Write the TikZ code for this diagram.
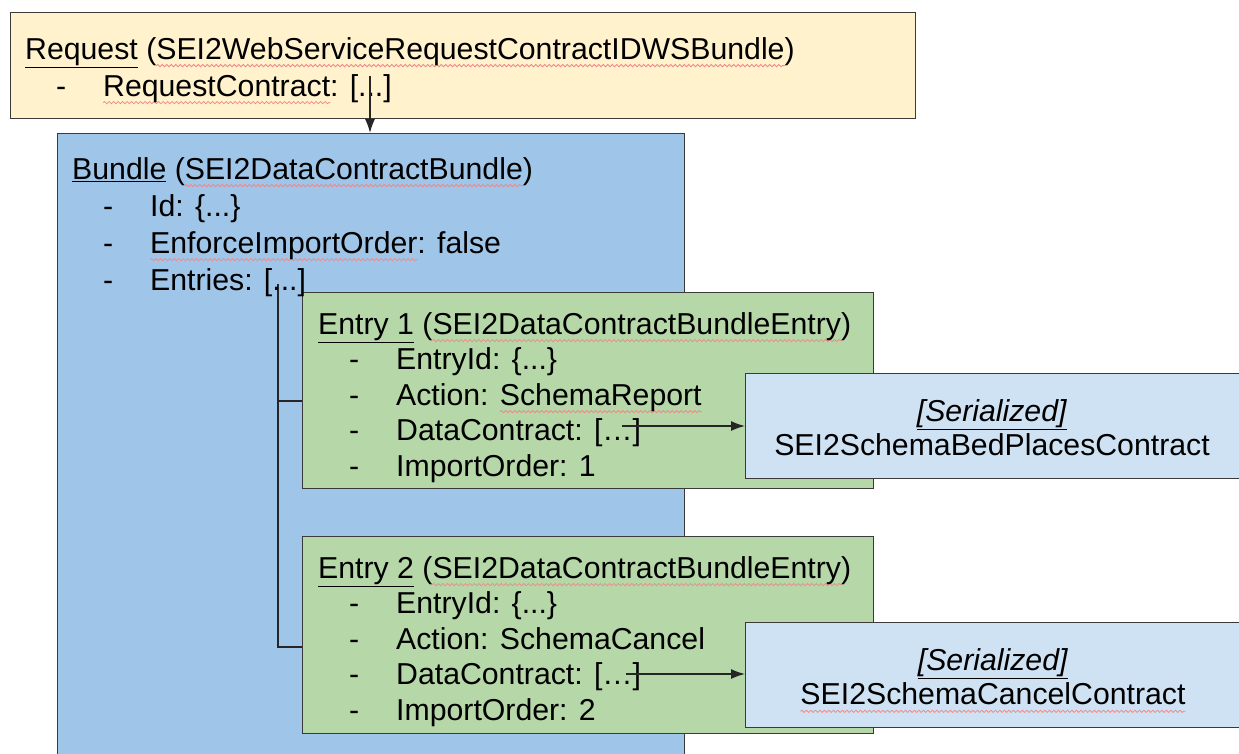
\documentclass[tikz,border=0pt]{standalone}
\usepackage{fontspec}
\setmainfont{Liberation Sans}
\usetikzlibrary{arrows,arrows.meta,decorations.pathmorphing,positioning}

\definecolor{reqfill}{HTML}{FFF2CC}
\definecolor{bundlefill}{HTML}{9FC5E8}
\definecolor{entryfill}{HTML}{B6D7A8}
\definecolor{serfill}{HTML}{CFE2F3}
\definecolor{edgegray}{HTML}{3A3A3A}
\definecolor{spellred}{HTML}{EE8A8A}

\newcommand{\field}[1]{\hspace*{31pt}\makebox[47pt][l]{-}#1}
% red wavy mark under a word
\newcommand{\spellwave}[1]{\setbox0=\hbox{#1}\rlap{\tikz[overlay,baseline=0pt,x=1pt,y=1pt]
  \draw[spellred, line width=0.8pt, decorate, decoration={snake,amplitude=1.1pt,segment length=4.5pt}]
  (0,-6.5) -- (\the\wd0,-6.5);}\box0}

\tikzset{
  box/.style={draw=edgegray, line width=1.3pt, anchor=north west, inner sep=0pt},
  boxtext/.style={anchor=north west, inner sep=0pt, align=left},
  link/.style={draw=black!85, line width=1.3pt},
  linkarrow/.style={link, arrows={-Latex[length=14pt,width=10pt]}},
}

\begin{document}
\begin{tikzpicture}[x=1pt,y=-1pt,font=\fontsize{30.25}{37}\selectfont]
  \clip (0,0) rectangle (1239,754);
  \useasboundingbox (0,0) rectangle (1239,754);
  % boxes
  \node[box, fill=reqfill, minimum width=905pt, minimum height=106pt] (request) at (10,12) {};
  \node[box, fill=bundlefill, minimum width=627pt, minimum height=660pt] (bundle) at (57,133) {};
  % entries list
  \coordinate (entries) at (278,284);
  \coordinate (e1in) at (302,401);
  \coordinate (e2in) at (302,647);
  \draw[link] (entries) |- (e1in);
  \draw[link] (entries) |- (e2in);
  \node[box, fill=entryfill, minimum width=571pt, minimum height=196pt] (entry1) at (302,292) {};
  \node[box, fill=entryfill, minimum width=571pt, minimum height=197pt] (entry2) at (302,536) {};
  \node[box, fill=serfill, minimum width=520pt, minimum height=105pt] (ser1) at (745,373) {};
  \node[box, fill=serfill, minimum width=520pt, minimum height=105pt] (ser2) at (745,622) {};
  % texts
  \node[boxtext] (reqtext) at (25,37)
    {\underline{Request} (\spellwave{SEI2WebServiceRequestContractIDWSBundle})\\
     \field{\spellwave{RequestContract}: [...]}};
  \node[boxtext] (bundletext) at (72,157)
    {\underline{Bundle} (\spellwave{SEI2DataContractBundle})\\
     \field{Id: \{...\}}\\
     \field{\spellwave{EnforceImportOrder}: false}\\
     \field{Entries: [...]}};
  \node[boxtext, font=\fontsize{30.25}{35.5}\selectfont] (entry1text) at (318,312)
    {\underline{Entry 1} (\spellwave{SEI2DataContractBundleEntry})\\
     \field{EntryId: \{...\}}\\
     \field{Action: \spellwave{SchemaReport}}\\
     \field{DataContract: […]}\\
     \field{ImportOrder: 1}};
  \node[boxtext, font=\fontsize{30.25}{35.5}\selectfont] (entry2text) at (318,556)
    {\underline{Entry 2} (\spellwave{SEI2DataContractBundleEntry})\\
     \field{EntryId: \{...\}}\\
     \field{Action: SchemaCancel}\\
     \field{DataContract: […]}\\
     \field{ImportOrder: 2}};
  \node[align=center, inner sep=0pt, font=\fontsize{30.25}{34}\selectfont] (ser1text) at (992,428)
    {\underline{\textit{[Serialized]}}\\ SEI2SchemaBedPlacesContract};
  \node[align=center, inner sep=0pt, font=\fontsize{30.25}{34}\selectfont] (ser2text) at (993,677)
    {\underline{\textit{[Serialized]}}\\ \spellwave{SEI2SchemaCancelContract}};
  % arrows
  \coordinate (reqref) at (370,76);
  \coordinate (dc1) at (622,426);
  \coordinate (dc2) at (626,674);
  \draw[linkarrow] (reqref) -- (reqref |- bundle.north);
  \draw[linkarrow] (dc1) -- (dc1 -| ser1.west);
  \draw[linkarrow] (dc2) -- (dc2 -| ser2.west);
\end{tikzpicture}
\end{document}
